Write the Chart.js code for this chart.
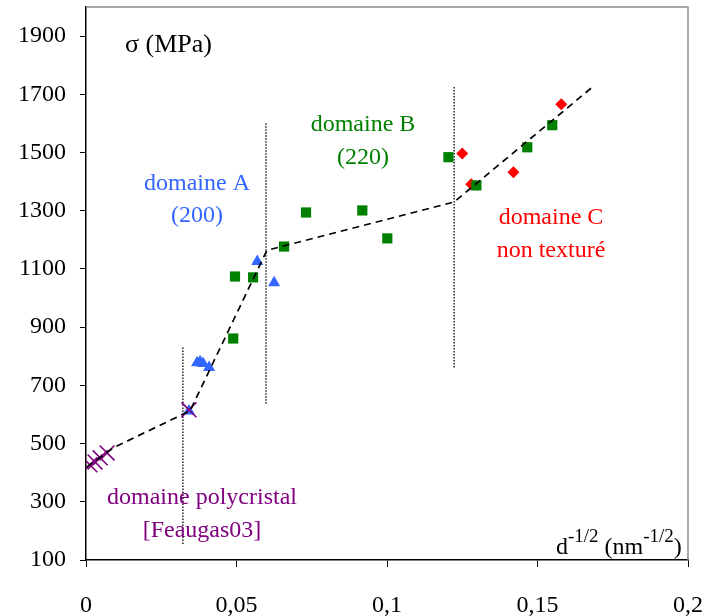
<!DOCTYPE html>
<html>
<head>
<meta charset="utf-8">
<script src="https://cdn.jsdelivr.net/npm/chart.js@4/dist/chart.umd.min.js"></script>
<style>
html,body{margin:0;padding:0;background:#fff;}
#wrap{width:706px;height:616px;position:relative;}
</style>
</head>
<body>
<div id="wrap"><canvas id="c" width="706" height="616"></canvas></div>
<script>
// ---- data ----
const xTicks = [0, 0.05, 0.1, 0.15, 0.2];
const xTickLabels = ['0', '0,05', '0,1', '0,15', '0,2'];
const yTicks = [100, 300, 500, 700, 900, 1100, 1300, 1500, 1700, 1900];

// domaine polycristal [Feaugas03]
const polyX = [0.0013, 0.0030, 0.0047, 0.0070, 0.0342];
const polyY = [427, 437, 451, 468, 616];
// domaine A (200)
const domAX = [0.0342, 0.0369, 0.0379, 0.0389, 0.0409, 0.0569, 0.0625];
const domAY = [612, 778, 781, 775, 761, 1126, 1053];
// domaine B (220)
const domBX = [0.0489, 0.0495, 0.0555, 0.0658, 0.0731, 0.0918, 0.1001, 0.1204, 0.1297, 0.1466, 0.1549];
const domBY = [861, 1074, 1071, 1177, 1294, 1301, 1205, 1484, 1387, 1518, 1594];
// domaine C non texturé
const domCX = [0.1250, 0.1280, 0.1420, 0.1579];
const domCY = [1497, 1391, 1432, 1666];
// dashed trend line
const fitX = [0.0003, 0.0090, 0.0346, 0.0601, 0.1223, 0.1678];
const fitY = [420, 485, 613, 1164, 1330, 1721];
// dotted domain separators [x, yBottom, yTop]
const sepX = [0.0322, 0.0598, 0.1223];
const sepYBottom = [155, 637, 761];
const sepYTop = [830, 1604, 1728];

const pts = (xs, ys) => xs.map((x, i) => ({x: x, y: ys[i]}));

const FONT = "'Liberation Serif', 'Times New Roman', serif";

const datasets = [
  {label: 'fit', data: pts(fitX, fitY), showLine: true, borderColor: '#000', borderWidth: 1.7,
   borderDash: [7, 5], pointRadius: 0, fill: false, order: 0},
  {label: 'poly', data: pts(polyX, polyY), pointStyle: 'crossRot', pointRadius: 10.5,
   borderColor: '#800080', backgroundColor: '#800080', pointBorderWidth: 1.6, showLine: false, order: 1},
  {label: 'A', data: pts(domAX, domAY), pointStyle: 'triangle', pointRadius: 7,
   borderColor: '#3366FF', backgroundColor: '#3366FF', borderWidth: 0, showLine: false, order: 2},
  {label: 'B', data: pts(domBX, domBY), pointStyle: 'rect', pointRadius: 7.2,
   borderColor: '#008000', backgroundColor: '#008000', borderWidth: 0, showLine: false, order: 3},
  {label: 'C', data: pts(domCX, domCY), pointStyle: 'rectRot', pointRadius: 6,
   borderColor: '#FF0000', backgroundColor: '#FF0000', borderWidth: 0, showLine: false, order: 4}
];
sepX.forEach((x, i) => {
  datasets.push({label: 'sep' + i, data: [{x: x, y: sepYBottom[i]}, {x: x, y: sepYTop[i]}],
    showLine: true, borderColor: '#000', borderWidth: 1.3, borderDash: [1.5, 1.5], pointRadius: 0, order: 5});
});

const textPlugin = {
  id: 'texts',
  afterDraw(chart) {
    const ctx = chart.ctx;
    const a = chart.chartArea;
    ctx.save();
    // gray frame on top and right
    ctx.strokeStyle = '#8c8c8c';
    ctx.lineWidth = 1.5;
    ctx.beginPath();
    ctx.moveTo(a.left, a.top);
    ctx.lineTo(a.right, a.top);
    ctx.lineTo(a.right, a.bottom);
    ctx.stroke();

    const put = (t, x, y, color, size, align) => {
      ctx.font = size + 'px ' + FONT;
      ctx.fillStyle = color;
      ctx.textAlign = align || 'center';
      ctx.textBaseline = 'alphabetic';
      ctx.fillText(t, x, y);
    };
    put('\u03C3 (MPa)', 125, 52, '#000', 26, 'left');
    put('domaine A', 197, 190, '#3366FF', 24);
    put('(200)', 197, 222, '#3366FF', 24);
    put('domaine B', 363, 131, '#008000', 24);
    put('(220)', 363, 164, '#008000', 24);
    put('domaine C', 551, 224, '#FF0000', 24);
    put('non textur\u00e9', 551, 257, '#FF0000', 24);
    put('domaine polycristal', 202, 504, '#800080', 24);
    put('[Feaugas03]', 202, 537, '#800080', 24);

    // axis title d^-1/2 (nm^-1/2)
    let x = 556, y = 554;
    const seg = (t, sup) => {
      ctx.font = (sup ? 19 : 24) + 'px ' + FONT;
      ctx.fillStyle = '#000';
      ctx.textAlign = 'left';
      ctx.fillText(t, x, sup ? y - 12 : y);
      x += ctx.measureText(t).width;
    };
    seg('d', false); seg('-1/2', true); seg(' (nm', false); seg('-1/2', true); seg(')', false);
    ctx.restore();
  }
};

new Chart(document.getElementById('c'), {
  type: 'scatter',
  data: {datasets: datasets},
  options: {
    responsive: false,
    animation: false,
    layout: {autoPadding: false, padding: {top: 7, right: 18, left: 0, bottom: 0}},
    plugins: {legend: {display: false}, tooltip: {enabled: false}},
    scales: {
      x: {
        type: 'linear', min: 0, max: 0.2,
        afterBuildTicks: s => { s.ticks = xTicks.map(v => ({value: v})); },
        afterFit: s => { s.height = 56; s.paddingLeft = 0; s.paddingRight = 0; },
        grid: {display: true, drawOnChartArea: false, drawTicks: true, tickLength: 7, color: '#000'},
        border: {color: '#000', width: 1.5},
        ticks: {
          color: '#000', font: {family: FONT, size: 24}, padding: 24, maxRotation: 0,
          callback: (v) => { const i = xTicks.indexOf(v); return i >= 0 ? xTickLabels[i] : ''; }
        }
      },
      y: {
        type: 'linear', min: 100, max: 2000,
        afterBuildTicks: s => { s.ticks = yTicks.map(v => ({value: v})); },
        afterFit: s => { s.width = 86; s.paddingTop = 0; s.paddingBottom = 0; },
        grid: {display: true, drawOnChartArea: false, drawTicks: true, tickLength: 6, color: '#000'},
        border: {color: '#000', width: 1.5},
        ticks: {color: '#000', font: {family: FONT, size: 24}, padding: 14, callback: v => String(v)}
      }
    }
  },
  plugins: [textPlugin]
});
</script>
</body>
</html>
